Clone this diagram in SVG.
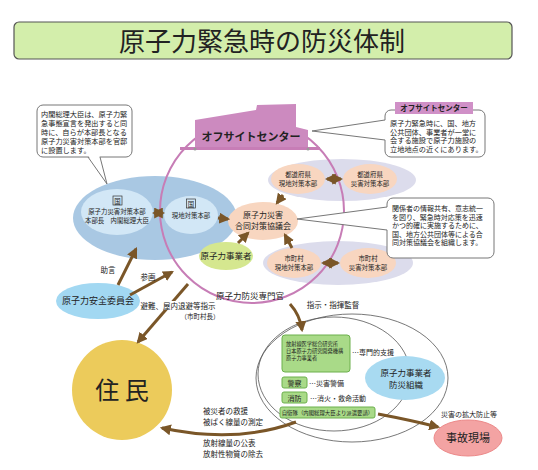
<svg xmlns="http://www.w3.org/2000/svg" width="538" height="470" viewBox="0 0 538 470">
<defs>
<style>
text{font-family:"Noto Sans CJK JP","Noto Sans",sans-serif;fill:#222;text-anchor:middle}
.s{font-size:7.2px;text-anchor:start}
.n{font-size:8.5px}
.sm{font-size:6.4px}
.lb{font-size:7.5px}
.gt{font-size:5.2px;text-anchor:start}
.arr{fill:none;stroke:#7a5628;stroke-width:3}
.bub{fill:#fff;stroke:#777;stroke-width:1}
.peach{fill:#f8d6c0}
.lav{fill:#dcdcec}
.gb{fill:#a9da88;stroke:#6cb04c;stroke-width:1}
</style>
<marker id="ah" viewBox="0 0 10 10" refX="8" refY="5" markerWidth="11" markerHeight="11" markerUnits="userSpaceOnUse" orient="auto-start-reverse">
<path d="M0,0 L10,5 L0,10 z" fill="#7a5628"/>
</marker>
</defs>
<rect width="538" height="470" fill="#fff"/>

<g id="title">
<rect x="14" y="22" width="498" height="37" rx="5" fill="#d3eeab" stroke="#555" stroke-width="1.2"/>
<text x="262" y="51" style="font-size:26px">原子力緊急時の防災体制</text>
</g>

<g id="kuni">
<ellipse cx="155" cy="218" rx="82" ry="42" fill="#a9c8e3"/>
<g id="kuni-honbu">
<ellipse cx="117" cy="212" rx="36" ry="23" fill="#d2e7f6"/>
<rect x="113" y="196" width="9" height="9" fill="none" stroke="#333" stroke-width="0.7"/>
<text x="117.5" y="204" class="sm">国</text>
<text x="117" y="214" class="sm">原子力災害対策本部</text>
<text x="117" y="223" class="sm">本部長　内閣総理大臣</text>
</g>
<g id="kuni-genchi">
<ellipse cx="191" cy="215" rx="27" ry="19" fill="#d2e7f6"/>
<rect x="186.5" y="199" width="9" height="9" fill="none" stroke="#333" stroke-width="0.7"/>
<text x="191" y="207" class="sm">国</text>
<text x="191" y="218" class="sm">現地対策本部</text>
</g>
</g>

<g id="pref-bg"><ellipse cx="342" cy="180" rx="74" ry="21" class="lav"/></g>
<g id="city-bg"><ellipse cx="338" cy="263" rx="75" ry="22" class="lav"/></g>

<g id="offsite-circle">
<circle cx="252" cy="211" r="92" fill="none" stroke="#c77db6" stroke-width="2"/>
</g>

<g id="offsite-building">
<path d="M195,149 L195,120 L256,110 L257,105 L296,104 L296,127 L308,130 L308,149 Z" fill="#cc8abf"/>
<rect x="180" y="147" width="140" height="3" fill="#c77db6"/>
<circle cx="195" cy="149" r="1.5" fill="#999"/>
<circle cx="308" cy="149" r="1.5" fill="#999"/>
<text x="251" y="141" style="font-size:11px;font-weight:bold">オフサイトセンター</text>
</g>

<g id="pref-genchi">
<ellipse cx="298" cy="179" rx="27" ry="15" class="peach"/>
<text x="298" y="177" class="sm">都道府県</text>
<text x="298" y="186" class="sm">現地対策本部</text>
</g>
<g id="pref-saigai">
<ellipse cx="370" cy="179" rx="27" ry="15" class="peach"/>
<text x="370" y="177" class="sm">都道府県</text>
<text x="370" y="186" class="sm">災害対策本部</text>
</g>
<g id="city-genchi">
<ellipse cx="294" cy="263" rx="27" ry="15" class="peach"/>
<text x="294" y="261" class="sm">市町村</text>
<text x="294" y="270" class="sm">現地対策本部</text>
</g>
<g id="city-saigai">
<ellipse cx="368" cy="263" rx="28" ry="15" class="peach"/>
<text x="368" y="261" class="sm">市町村</text>
<text x="368" y="270" class="sm">災害対策本部</text>
</g>
<g id="kyogikai">
<ellipse cx="263" cy="221" rx="35" ry="19" class="peach"/>
<text x="263" y="218" style="font-size:8px">原子力災害</text>
<text x="263" y="229" style="font-size:8px">合同対策協議会</text>
</g>
<g id="jigyosha">
<ellipse cx="226" cy="256" rx="27" ry="14" fill="#d5e78f"/>
<text x="226" y="259" class="n">原子力事業者</text>
</g>
<g id="anzen-iinkai">
<ellipse cx="98" cy="301" rx="42" ry="18" fill="#a2d8f2"/>
<text x="98" y="304" style="font-size:9px">原子力安全委員会</text>
</g>
<g id="bosai-senmonkan">
<text x="250" y="299" style="font-size:8.5px">原子力防災専門官</text>
</g>
<g id="jumin">
<circle cx="122" cy="390" r="50" fill="#eccb5b"/>
<text x="122" y="399" style="font-size:24px">住 民</text>
</g>

<g id="response-group">
<ellipse cx="352" cy="378" rx="96" ry="64" fill="none" stroke="#555" stroke-width="0.8"/>
<ellipse cx="334" cy="374" rx="76" ry="57" fill="none" stroke="#555" stroke-width="0.8"/>
</g>
<g id="jigyosha-bosai">
<ellipse cx="405" cy="378" rx="40" ry="22" fill="#a8daf1"/>
<text x="406" y="376" class="n">原子力事業者</text>
<text x="406" y="388" class="n">防災組織</text>
</g>
<g id="support-box">
<rect x="282" y="335" width="68" height="37" rx="3" class="gb"/>
<text x="286" y="346" class="gt">放射線医学総合研究所</text>
<text x="286" y="353" class="gt">日本原子力研究開発機構</text>
<text x="286" y="360" class="gt">原子力事業者</text>
<text x="352" y="355" style="font-size:7px;text-anchor:start">…専門的支援</text>
</g>
<g id="police">
<rect x="282" y="377" width="25" height="11" rx="2" class="gb"/>
<text x="294.5" y="385.5" style="font-size:7px">警察</text>
<text x="309" y="385.5" style="font-size:7px;text-anchor:start">…災害警備</text>
</g>
<g id="fire">
<rect x="282" y="392" width="25" height="11" rx="2" class="gb"/>
<text x="294.5" y="400.5" style="font-size:7px">消防</text>
<text x="310" y="400.5" style="font-size:7px;text-anchor:start">…消火・救命活動</text>
</g>
<g id="sdf">
<rect x="280" y="407" width="95" height="11" rx="2" class="gb"/>
<text x="327.5" y="414.8" style="font-size:5.4px">自衛隊（内閣総理大臣より派遣要請）</text>
</g>
<g id="jiko-genba">
<ellipse cx="468" cy="438" rx="34" ry="18" fill="#f3a3a3" stroke="#ec8a8a" stroke-width="1"/>
<text x="468" y="442" style="font-size:11px">事故現場</text>
</g>

<g id="connectors">
<line x1="154" y1="213" x2="163" y2="213" class="arr" marker-start="url(#ah)" marker-end="url(#ah)"/>
<line x1="327" y1="179" x2="341" y2="179" class="arr" marker-start="url(#ah)" marker-end="url(#ah)"/>
<line x1="323" y1="263" x2="338" y2="263" class="arr" marker-start="url(#ah)" marker-end="url(#ah)"/>
<line x1="218" y1="218" x2="228" y2="219" class="arr" marker-end="url(#ah)"/>
<line x1="283" y1="195" x2="277" y2="203" class="arr" marker-end="url(#ah)"/>
<line x1="238" y1="243" x2="248" y2="233" class="arr" marker-end="url(#ah)"/>
<line x1="292" y1="248" x2="285" y2="235" class="arr" marker-end="url(#ah)"/>
<line x1="118" y1="285" x2="136" y2="249" class="arr" marker-end="url(#ah)"/>
<line x1="130" y1="295" x2="172" y2="272" class="arr" marker-end="url(#ah)"/>
<line x1="188" y1="284" x2="138" y2="342" class="arr" marker-end="url(#ah)"/>
<path d="M290,304 Q300,315 302,330" class="arr" marker-end="url(#ah)"/>
<path d="M296,422 Q236,444 162,428" class="arr" marker-end="url(#ah)"/>
<path d="M378,414 Q410,420 438,427" class="arr" marker-end="url(#ah)"/>
</g>

<g id="labels">
<text x="108" y="273" class="lb">助言</text>
<text x="148" y="280" class="lb">参画</text>
<rect x="141" y="301" width="76" height="9" fill="#fff"/>
<text x="178" y="308.5" class="lb">避難、屋内退避等指示</text>
<text x="200" y="319" style="font-size:6.5px">（市町村長）</text>
<text x="333" y="308" class="lb">指示・指揮監督</text>
<text x="469" y="417" style="font-size:7px">災害の拡大防止等</text>
<text x="203" y="414" class="lb" style="text-anchor:start">被災者の救援</text>
<text x="203" y="424.5" class="lb" style="text-anchor:start">被ばく線量の測定</text>
<text x="203" y="446" class="lb" style="text-anchor:start">放射線量の公表</text>
<text x="203" y="456.5" class="lb" style="text-anchor:start">放射性物質の除去</text>
</g>

<g id="bubble-pm">
<rect x="37" y="105" width="95" height="52" rx="6" class="bub"/>
<polygon points="88.5,156 99.5,156 107,184" fill="#fff"/>
<polyline points="88,157 107,184 100,157" fill="none" stroke="#777" stroke-width="1"/>
<text x="41" y="117" class="s">内閣総理大臣は、原子力緊</text>
<text x="41" y="126" class="s">急事態宣言を発出すると同</text>
<text x="41" y="135" class="s">時に、自らが本部長となる</text>
<text x="41" y="144" class="s">原子力災害対策本部を官邸</text>
<text x="41" y="153" class="s">に設置します。</text>
</g>

<g id="bubble-offsite">
<rect x="385" y="110" width="100" height="47" rx="6" class="bub"/>
<polygon points="386,120 386,140 312,131" fill="#fff"/>
<polyline points="385,120 312,131 385,140" fill="none" stroke="#777" stroke-width="1"/>
<rect x="395" y="102" width="78" height="12" fill="#d090c7"/>
<text x="434" y="111" style="font-size:7.5px;font-weight:bold">オフサイトセンター</text>
<text x="390" y="126" class="s">原子力緊急時に、国、地方</text>
<text x="390" y="134.5" class="s">公共団体、事業者が一堂に</text>
<text x="390" y="143" class="s">会する施設で原子力施設の</text>
<text x="390" y="151.5" class="s">立地地点の近くにあります。</text>
</g>

<g id="bubble-kyogikai">
<rect x="387" y="198" width="107" height="60" rx="6" class="bub"/>
<polygon points="388,207 388,230 297,219" fill="#fff"/>
<polyline points="387,207 297,219 387,230" fill="none" stroke="#777" stroke-width="1"/>
<text x="392" y="211" class="s" style="font-size:7px">関係者の情報共有、意志統一</text>
<text x="392" y="219.5" class="s" style="font-size:7px">を図り、緊急時対応策を迅速</text>
<text x="392" y="228" class="s" style="font-size:7px">かつ的確に実施するために、</text>
<text x="392" y="236.5" class="s" style="font-size:7px">国、地方公共団体等による合</text>
<text x="392" y="245" class="s" style="font-size:7px">同対策協議会を組織します。</text>
</g>
</svg>
